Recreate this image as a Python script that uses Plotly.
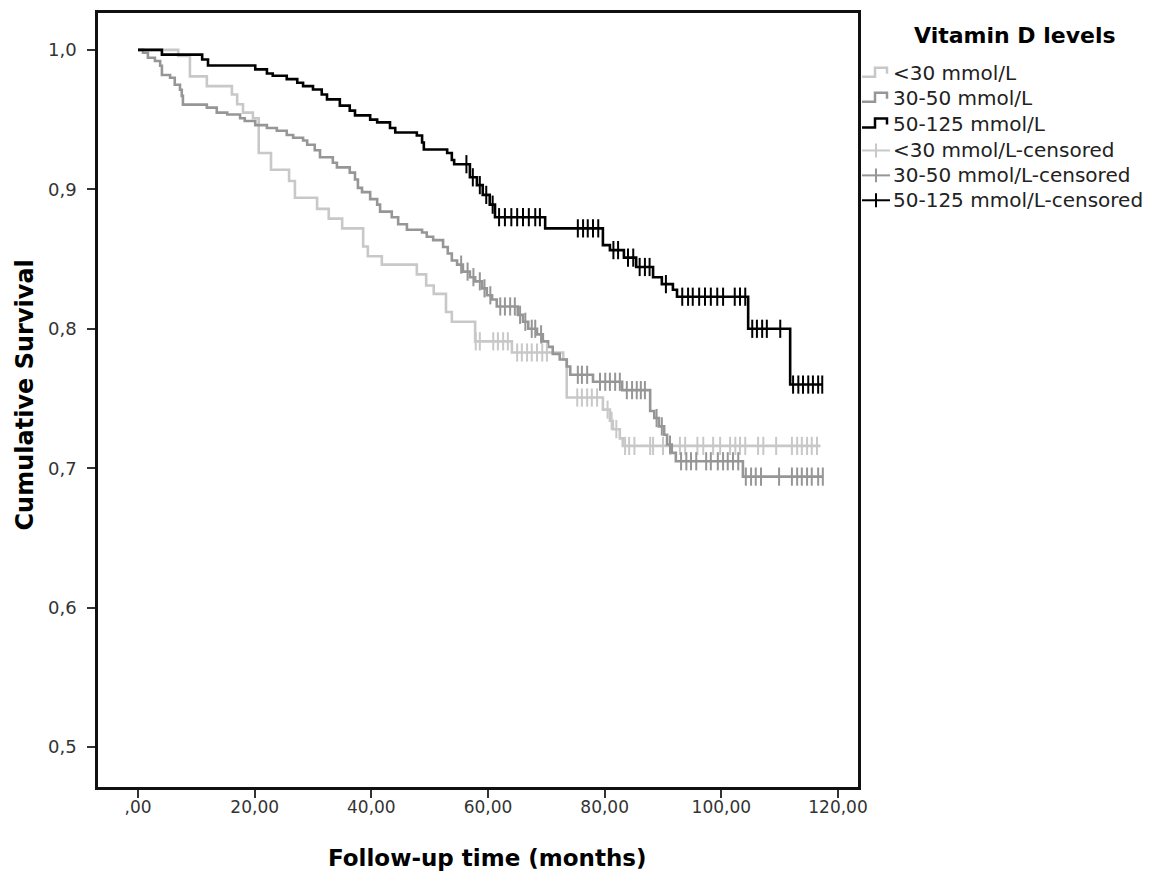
import plotly.graph_objects as go

# ---------------- data ----------------
x_ticks = [0, 20, 40, 60, 80, 100, 120]
x_tick_labels = [",00", "20,00", "40,00", "60,00", "80,00", "100,00", "120,00"]
y_ticks = [0.5, 0.6, 0.7, 0.8, 0.9, 1.0]
y_tick_labels = ["0,5", "0,6", "0,7", "0,8", "0,9", "1,0"]

series_names = ["<30 mmol/L", "30-50 mmol/L", "50-125 mmol/L"]

# <30 mmol/L
lg_event_t = [6.9, 8.9, 11.8, 16.1, 17.0, 18.0, 19.7, 20.7, 22.8, 25.9, 26.9, 30.7, 32.7, 35.0, 38.6,
              39.4, 41.8, 47.8, 49.4, 50.7, 52.8, 53.8, 57.8, 64.1, 72.9, 73.5, 79.7, 80.9, 81.4, 82.6, 83.1]
lg_surv = [0.9957, 0.981, 0.974, 0.968, 0.961, 0.955, 0.951, 0.926, 0.914, 0.906, 0.894, 0.886, 0.879, 0.872, 0.859,
           0.852, 0.846, 0.839, 0.831, 0.825, 0.812, 0.805, 0.791, 0.783, 0.778, 0.7507, 0.742, 0.734, 0.728, 0.7214, 0.716]
lg_censor_t = [57.9, 58.6, 60.9, 61.7, 62.6, 63.4, 65.0, 65.8, 66.7, 67.5, 68.4, 69.3, 70.1, 75.3, 76.1, 77.0,
               77.8, 78.7, 80.5, 81.2, 82.0, 83.5, 84.2, 85.1, 87.8, 88.3, 90.0, 91.2, 92.9, 93.8, 95.9, 96.9,
               98.6, 99.8, 101.5, 102.4, 103.2, 104.1, 106.3, 107.2, 109.4, 112.1, 113.0, 113.8, 114.7, 115.5, 116.4]
lg_end = 117.0

# 30-50 mmol/L
gr_event_t = [0.86, 1.7, 2.9, 3.8, 4.1, 5.5, 6.3, 7.2, 7.5, 7.7, 11.8, 13.5, 15.3, 17.5, 18.3, 20.1, 22.1, 23.8,
              25.5, 26.6, 28.3, 29.0, 30.3, 31.2, 33.4, 34.1, 36.3, 37.2, 37.7, 38.4, 39.8, 41.0, 41.5, 43.5, 44.6,
              46.1, 48.7, 49.5, 50.6, 52.3, 53.1, 53.8, 54.7, 55.7, 56.9, 57.8, 59.0, 59.8, 60.7, 61.5, 65.1, 66.0,
              66.9, 68.4, 69.4, 70.3, 71.1, 72.3, 73.5, 74.1, 78.0, 83.0, 87.8, 88.5, 89.3, 90.2, 90.7, 91.5, 92.2, 103.7]
gr_surv = [0.9979, 0.9943, 0.992, 0.9886, 0.982, 0.98, 0.975, 0.9714, 0.967, 0.9607, 0.9586, 0.955, 0.9536, 0.951,
           0.949, 0.946, 0.944, 0.942, 0.939, 0.937, 0.935, 0.932, 0.928, 0.923, 0.919, 0.9157, 0.912, 0.907, 0.901,
           0.898, 0.893, 0.889, 0.884, 0.880, 0.875, 0.871, 0.869, 0.866, 0.8636, 0.8586, 0.854, 0.849, 0.846, 0.841,
           0.837, 0.834, 0.829, 0.824, 0.821, 0.816, 0.810, 0.805, 0.800, 0.796, 0.791, 0.787, 0.782, 0.778, 0.773,
           0.767, 0.762, 0.756, 0.741, 0.736, 0.730, 0.724, 0.717, 0.711, 0.705, 0.694]
gr_censor_t = [55.4, 56.5, 57.5, 58.6, 59.4, 60.4, 62.1, 62.9, 63.8, 64.6, 65.5, 66.4, 67.5, 68.1, 69.1, 75.4, 76.1,
               77.0, 79.2, 80.1, 80.9, 81.8, 82.6, 83.8, 84.7, 85.5, 86.2, 86.9, 88.9, 89.8, 91.2, 93.1, 94.0, 94.8,
               95.7, 97.4, 98.2, 99.4, 100.3, 101.1, 102.0, 102.9, 104.2, 105.1, 105.9, 106.8, 109.9, 112.1, 113.0,
               113.8, 114.7, 115.5, 116.6, 117.4]
gr_end = 117.4

# 50-125 mmol/L
bl_event_t = [4.1, 11.0, 12.0, 20.1, 22.1, 23.1, 25.5, 27.3, 28.3, 30.0, 31.5, 32.4, 34.6, 36.3, 37.2, 39.8, 41.0,
              43.2, 44.1, 47.8, 48.7, 49.0, 53.0, 53.8, 54.2, 56.9, 58.1, 59.1, 60.3, 61.2, 69.8, 79.7, 80.9, 83.3,
              85.4, 88.3, 89.8, 91.7, 92.4, 104.6, 111.8]
bl_surv = [0.9966, 0.9931, 0.9888, 0.986, 0.983, 0.9814, 0.979, 0.9764, 0.974, 0.9716, 0.968, 0.9645, 0.960, 0.9564,
           0.953, 0.950, 0.948, 0.944, 0.9407, 0.9386, 0.9336, 0.9286, 0.926, 0.921, 0.918, 0.9086, 0.903, 0.896,
           0.889, 0.880, 0.872, 0.860, 0.8564, 0.851, 0.8443, 0.837, 0.832, 0.828, 0.823, 0.800, 0.760]
bl_censor_t = [56.3, 57.4, 58.6, 59.7, 60.8, 61.9, 62.9, 64.0, 65.0, 66.0, 67.0, 68.1, 68.9, 75.4, 76.3, 77.1, 78.0,
               78.9, 81.5, 82.3, 84.0, 84.9, 86.0, 86.9, 87.7, 90.5, 93.3, 94.3, 95.1, 96.2, 97.2, 98.2, 99.3, 100.3,
               102.3, 103.2, 104.1, 105.3, 106.1, 107.0, 107.8, 110.1, 112.3, 113.2, 114.0, 114.9, 115.7, 116.6, 117.3]
bl_end = 117.4

assert len(lg_event_t) == len(lg_surv)
assert len(gr_event_t) == len(gr_surv)
assert len(bl_event_t) == len(bl_surv)

colors = ["#c8c8c8", "#969696", "#000000"]

# ---------------- figure geometry ----------------
W, H = 1156, 877
L, R, T, B = 98, 858, 10, 787   # plot-area pixel box as seen on the page
PAGE_OFF = 8                      # default body margin of the html page


def px(xp, yp):
    """page pixel position -> paper coords (legend / titles only)"""
    return (xp - L) / (R - L), (B - yp) / (B - T)


def surv_at(t, ev_t, ev_s):
    s = 1.0
    for tt, ss in zip(ev_t, ev_s):
        if tt <= t:
            s = ss
    return s


fig = go.Figure()
groups = [
    (lg_event_t, lg_surv, lg_censor_t, lg_end),
    (gr_event_t, gr_surv, gr_censor_t, gr_end),
    (bl_event_t, bl_surv, bl_censor_t, bl_end),
]
for name, col, (ev_t, ev_s, c_t, end) in zip(series_names, colors, groups):
    xs = [0.0] + list(ev_t) + [end]
    ys = [1.0] + list(ev_s) + [ev_s[-1]]
    fig.add_trace(go.Scatter(x=xs, y=ys, mode="lines", line=dict(color=col, width=2.6, shape="hv"),
                             name=name, showlegend=False, hoverinfo="skip"))
for name, col, (ev_t, ev_s, c_t, end) in zip(series_names, colors, groups):
    cy = [surv_at(t, ev_t, ev_s) for t in c_t]
    fig.add_trace(go.Scatter(x=c_t, y=cy, mode="markers",
                             marker=dict(symbol="line-ns", size=13, color=col,
                                         line=dict(color=col, width=2)),
                             name=name + "-censored", showlegend=False, hoverinfo="skip"))

# ---------------- manual legend ----------------
shapes = []
annotations = []
tx, ty = px(1015, 33)
annotations.append(dict(x=tx, y=ty, xref="paper", yref="paper", text="<b>Vitamin D levels</b>", showarrow=False,
                        xanchor="center", yanchor="middle",
                        font=dict(family="DejaVu Sans", size=22, color="#000000")))
row_y = [70, 95, 121, 148, 173, 198]
labels = series_names + [n + "-censored" for n in series_names]
for i, (lab, yy) in enumerate(zip(labels, row_y)):
    col = colors[i % 3]
    if i < 3:
        pts = [(862, yy + 4), (875, yy + 4), (875, yy - 5), (887, yy - 5), (887, yy + 1)]
        path = ""
        for j, (a, b) in enumerate(pts):
            pa, pb = px(a, b)
            path += ("M " if j == 0 else " L ") + f"{pa:.5f},{pb:.5f}"
        shapes.append(dict(type="path", path=path, xref="paper", yref="paper",
                           line=dict(color=col, width=2.5)))
    else:
        x0, y0 = px(862, yy)
        x1, _ = px(890, yy)
        shapes.append(dict(type="line", x0=x0, x1=x1, y0=y0, y1=y0, xref="paper", yref="paper",
                           line=dict(color=col, width=2)))
        xm, ya = px(876, yy - 7)
        _, yb = px(876, yy + 7)
        shapes.append(dict(type="line", x0=xm, x1=xm, y0=ya, y1=yb, xref="paper", yref="paper",
                           line=dict(color=col, width=2)))
    ax, ay = px(891, yy)
    annotations.append(dict(x=ax, y=ay, xref="paper", yref="paper", text=lab, showarrow=False,
                            xanchor="left", yanchor="middle",
                            font=dict(family="DejaVu Sans", size=20, color="#222222")))

# axis titles
axx, axy = px(487, 858)
annotations.append(dict(x=axx, y=axy, xref="paper", yref="paper", text="<b>Follow-up time (months)</b>",
                        showarrow=False, xanchor="center", yanchor="middle",
                        font=dict(family="DejaVu Sans", size=23, color="#000000")))
ayx, ayy = px(25, 394)
annotations.append(dict(x=ayx, y=ayy, xref="paper", yref="paper", text="<b>Cumulative Survival</b>",
                        showarrow=False, xanchor="center", yanchor="middle", textangle=-90,
                        font=dict(family="DejaVu Sans", size=24, color="#000000")))

x_lo = 0 - (138 - L) / 5.8333
x_hi = 0 + (R - 138) / 5.8333
y_hi = 1.0 + (47 - T) / 1400
y_lo = 0.5 - (B - 747) / 1400

fig.update_layout(
    width=W, height=H, autosize=False,
    margin=dict(l=L - PAGE_OFF, r=W - (R - PAGE_OFF), t=T - PAGE_OFF, b=H - (B - PAGE_OFF), pad=0),
    plot_bgcolor="white", paper_bgcolor="white",
    showlegend=False,
    shapes=shapes, annotations=annotations,
    xaxis=dict(range=[x_lo, x_hi], tickvals=x_ticks, ticktext=x_tick_labels, ticks="outside", ticklen=8,
               tickwidth=1.5, tickcolor="#333333", showline=True, mirror=True, linecolor="#111111",
               linewidth=2.5, showgrid=False, zeroline=False, ticklabelstandoff=-5,
               tickfont=dict(family="DejaVu Sans", size=17, color="#333333")),
    yaxis=dict(range=[y_lo, y_hi], tickvals=y_ticks, ticktext=y_tick_labels, ticks="outside", ticklen=8,
               tickwidth=1.5, tickcolor="#333333", showline=True, mirror=True, linecolor="#111111",
               linewidth=2.5, showgrid=False, zeroline=False, ticklabelstandoff=7,
               tickfont=dict(family="DejaVu Sans", size=18, color="#333333")),
)

fig.write_html("out.html")
